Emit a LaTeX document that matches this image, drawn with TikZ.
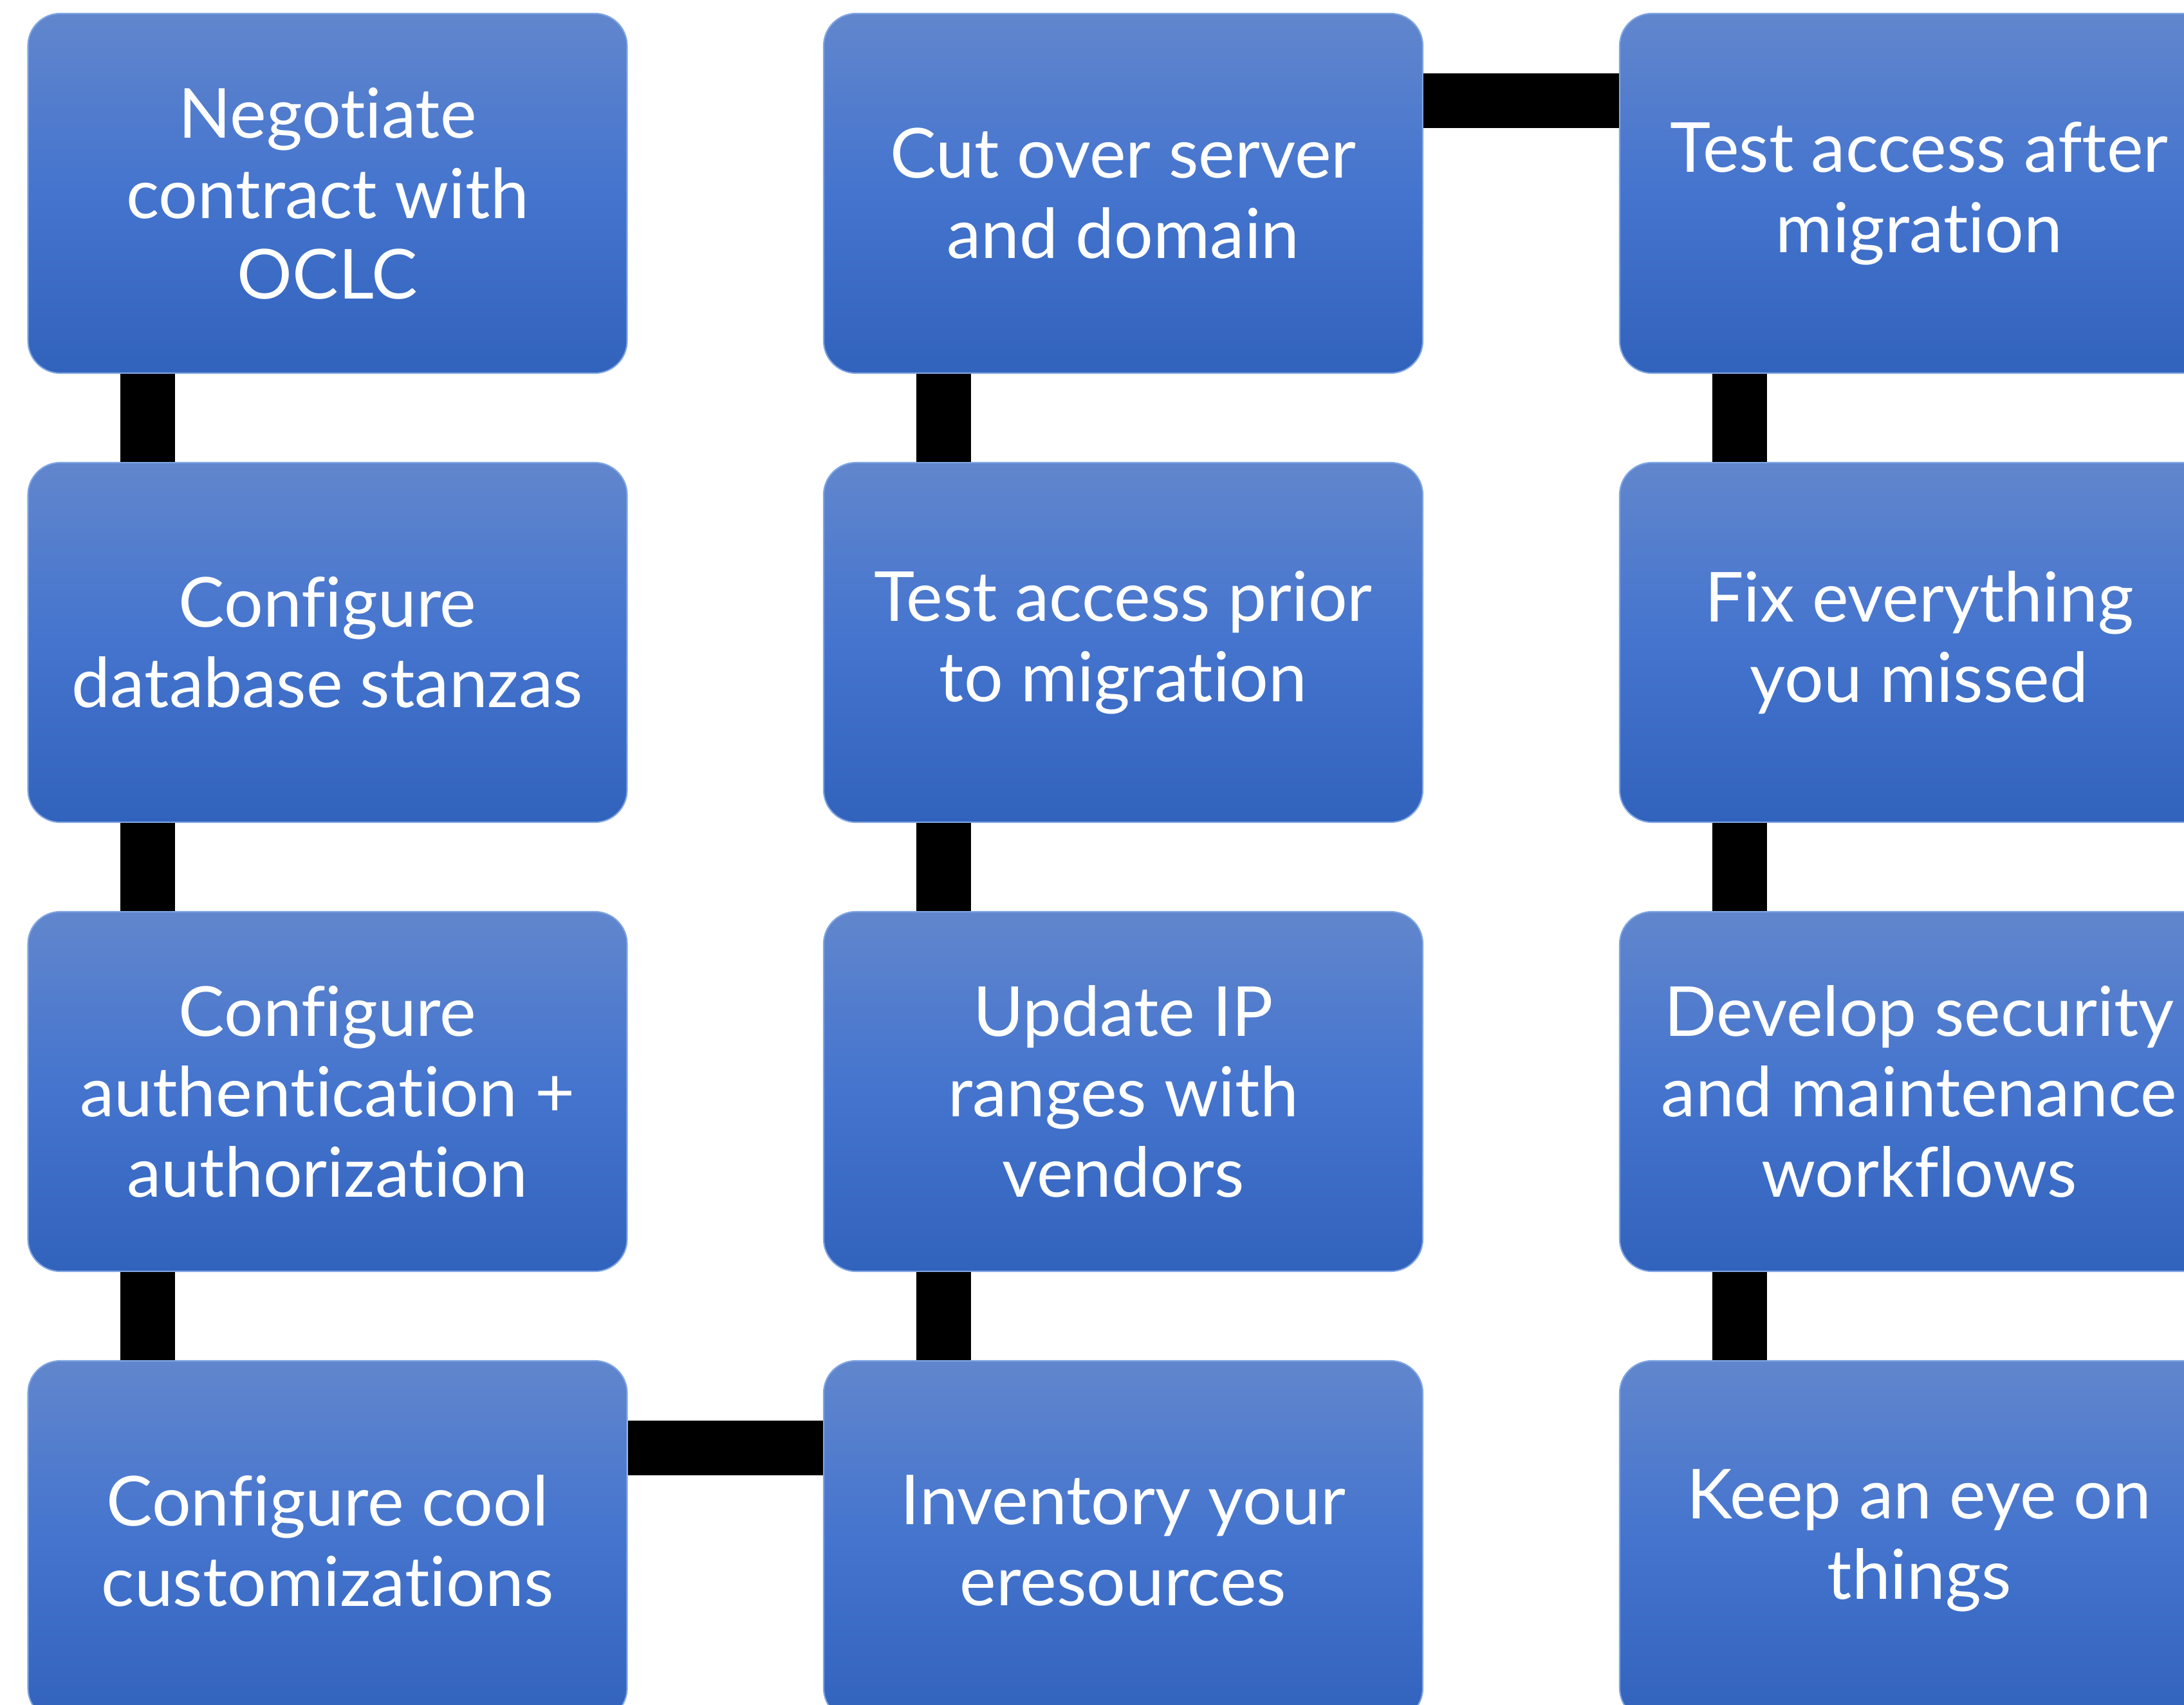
\documentclass[tikz,border=0pt]{standalone}
\usepackage{fontspec}
\setmainfont{Lato}[Ligatures=NoCommon]
\usepackage{tikz}
\usetikzlibrary{positioning, calc}
\definecolor{stepblue}{RGB}{68,116,206}
\definecolor{steptop}{RGB}{97,134,205}
\definecolor{stepbottom}{RGB}{49,98,188}
\definecolor{stepshine}{RGB}{168,200,240}

\begin{document}
\begin{tikzpicture}[
    stepbox/.style={rounded corners=0.5cm, minimum width=9.31cm, minimum height=5.59cm, top color=steptop, bottom color=stepbottom, middle color=stepblue, draw=stepshine!60!stepblue, line width=0.6pt, text=white, align=center, font=\fontsize{30.5}{35.6}\selectfont},
    link/.style={line width=0.85cm, black}
]
    % Frame
    \clip (0,0) rectangle (33.94,-26.5);

    % First column
    \node[stepbox] (negotiate) at (5.09,-3.005) {Negotiate\\contract with\\OCLC};
    \node[stepbox] (stanzas) at (5.09,-9.985) {Configure\\database stanzas};
    \node[stepbox] (auth) at (5.09,-16.965) {Configure\\authentication +\\authorization};
    \node[stepbox] (custom) at (5.09,-23.945) {Configure cool\\customizations};

    % Second column
    \node[stepbox] (inventory) at (17.455,-23.945) {Inventory your\\eresources};
    \node[stepbox] (iprange) at (17.455,-16.965) {Update IP\\ranges with\\vendors};
    \node[stepbox] (testprior) at (17.455,-9.985) {Test access prior\\to migration};
    \node[stepbox] (cutover) at (17.455,-3.005) {Cut over server\\and domain};

    % Third column
    \node[stepbox] (testafter) at (29.825,-3.005) {Test access after\\migration};
    \node[stepbox] (fixmissed) at (29.825,-9.985) {Fix everything\\you missed};
    \node[stepbox] (workflows) at (29.825,-16.965) {Develop security\\and maintenance\\workflows};
    \node[stepbox] (eyeon) at (29.825,-23.945) {Keep an eye on\\things};

    % Links
    \draw[link] ([xshift=1.875cm]negotiate.south west) -- ([xshift=1.875cm]stanzas.north west);
    \draw[link] ([xshift=1.875cm]stanzas.south west) -- ([xshift=1.875cm]auth.north west);
    \draw[link] ([xshift=1.875cm]auth.south west) -- ([xshift=1.875cm]custom.north west);
    \draw[link] ([yshift=-1.365cm]custom.north east) -- ([yshift=-1.365cm]inventory.north west);
    \draw[link] ([xshift=1.875cm]inventory.north west) -- ([xshift=1.875cm]iprange.south west);
    \draw[link] ([xshift=1.875cm]iprange.north west) -- ([xshift=1.875cm]testprior.south west);
    \draw[link] ([xshift=1.875cm]testprior.north west) -- ([xshift=1.875cm]cutover.south west);
    \draw[link] ([yshift=-1.365cm]cutover.north east) -- ([yshift=-1.365cm]testafter.north west);
    \draw[link] ([xshift=1.875cm]testafter.south west) -- ([xshift=1.875cm]fixmissed.north west);
    \draw[link] ([xshift=1.875cm]fixmissed.south west) -- ([xshift=1.875cm]workflows.north west);
    \draw[link] ([xshift=1.875cm]workflows.south west) -- ([xshift=1.875cm]eyeon.north west);
\end{tikzpicture}
\end{document}
